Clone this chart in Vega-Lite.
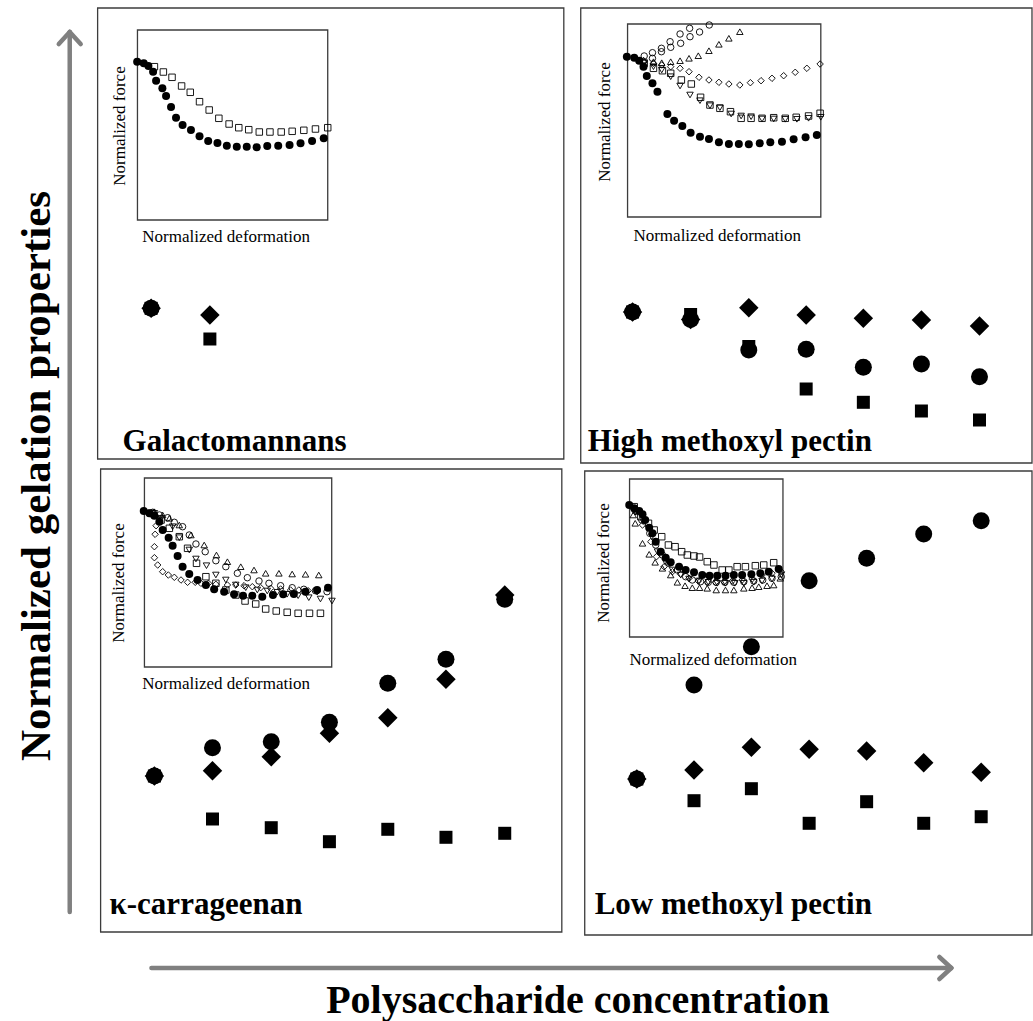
{
 "$schema": "https://vega.github.io/schema/vega-lite/v6.json",
 "width": 1033, "height": 1021,
 "autosize": {"type": "fit", "contains": "padding"},
 "padding": 0,
 "background": "white",
 "config": {"view": {"stroke": null}},
 "datasets": {
  "frames": [
   {"frame": "Galactomannans panel", "x0": 98, "x1": 566, "y0": 8, "y1": 459},
   {"frame": "High methoxyl pectin panel", "x0": 583, "x1": 1036, "y0": 8, "y1": 463},
   {"frame": "κ-carrageenan panel", "x0": 101, "x1": 564, "y0": 469, "y1": 932},
   {"frame": "Low methoxyl pectin panel", "x0": 587, "x1": 1036, "y0": 471, "y1": 935},
   {"frame": "Galactomannans inset", "x0": 138, "x1": 329, "y0": 30, "y1": 220},
   {"frame": "High methoxyl pectin inset", "x0": 630, "x1": 824, "y0": 24, "y1": 217},
   {"frame": "κ-carrageenan inset", "x0": 145, "x1": 333, "y0": 478, "y1": 667},
   {"frame": "Low methoxyl pectin inset", "x0": 632, "x1": 786, "y0": 479, "y1": 637}
  ],
  "arrows": [
   {"part": "vertical shaft", "x0": 70, "y0": 912, "x1": 70, "y1": 32},
   {"part": "vertical head left", "x0": 59, "y0": 44, "x1": 70, "y1": 32},
   {"part": "vertical head right", "x0": 81, "y0": 44, "x1": 70, "y1": 32},
   {"part": "horizontal shaft", "x0": 152, "y0": 968, "x1": 955, "y1": 968},
   {"part": "horizontal head top", "x0": 943, "y0": 957, "x1": 955, "y1": 968},
   {"part": "horizontal head bottom", "x0": 943, "y0": 979, "x1": 955, "y1": 968}
  ],
  "main": [
   {"panel": "Galactomannans", "c": 1, "marker": "circle", "x": 151.7, "y": 308.3},
   {"panel": "Galactomannans", "c": 1, "marker": "diamond", "x": 151.7, "y": 308.3},
   {"panel": "Galactomannans", "c": 1, "marker": "square", "x": 151.7, "y": 308.3},
   {"panel": "Galactomannans", "c": 2, "marker": "diamond", "x": 210.7, "y": 315},
   {"panel": "Galactomannans", "c": 2, "marker": "square", "x": 210.7, "y": 339},

   {"panel": "High methoxyl pectin", "c": 1, "marker": "circle", "x": 635, "y": 312},
   {"panel": "High methoxyl pectin", "c": 1, "marker": "diamond", "x": 635, "y": 312},
   {"panel": "High methoxyl pectin", "c": 1, "marker": "square", "x": 635, "y": 312},
   {"panel": "High methoxyl pectin", "c": 2, "marker": "circle", "x": 693.3, "y": 319.5},
   {"panel": "High methoxyl pectin", "c": 2, "marker": "diamond", "x": 693.3, "y": 319.5},
   {"panel": "High methoxyl pectin", "c": 2, "marker": "square", "x": 693.3, "y": 314.5},
   {"panel": "High methoxyl pectin", "c": 3, "marker": "diamond", "x": 751.7, "y": 307.7},
   {"panel": "High methoxyl pectin", "c": 3, "marker": "circle", "x": 751.7, "y": 350},
   {"panel": "High methoxyl pectin", "c": 3, "marker": "square", "x": 751.7, "y": 346.5},
   {"panel": "High methoxyl pectin", "c": 4, "marker": "diamond", "x": 809.3, "y": 315},
   {"panel": "High methoxyl pectin", "c": 4, "marker": "circle", "x": 809.3, "y": 349.3},
   {"panel": "High methoxyl pectin", "c": 4, "marker": "square", "x": 809.3, "y": 389},
   {"panel": "High methoxyl pectin", "c": 5, "marker": "diamond", "x": 866.7, "y": 318.3},
   {"panel": "High methoxyl pectin", "c": 5, "marker": "circle", "x": 866.7, "y": 367.3},
   {"panel": "High methoxyl pectin", "c": 5, "marker": "square", "x": 866.7, "y": 402.3},
   {"panel": "High methoxyl pectin", "c": 6, "marker": "diamond", "x": 925, "y": 320},
   {"panel": "High methoxyl pectin", "c": 6, "marker": "circle", "x": 925, "y": 364},
   {"panel": "High methoxyl pectin", "c": 6, "marker": "square", "x": 925, "y": 411},
   {"panel": "High methoxyl pectin", "c": 7, "marker": "diamond", "x": 983.3, "y": 326},
   {"panel": "High methoxyl pectin", "c": 7, "marker": "circle", "x": 983.3, "y": 376.7},
   {"panel": "High methoxyl pectin", "c": 7, "marker": "square", "x": 983.3, "y": 420},

   {"panel": "κ-carrageenan", "c": 1, "marker": "circle", "x": 155, "y": 776},
   {"panel": "κ-carrageenan", "c": 1, "marker": "diamond", "x": 155, "y": 776},
   {"panel": "κ-carrageenan", "c": 1, "marker": "square", "x": 155, "y": 776},
   {"panel": "κ-carrageenan", "c": 2, "marker": "circle", "x": 213.3, "y": 747.7},
   {"panel": "κ-carrageenan", "c": 2, "marker": "diamond", "x": 213.3, "y": 770.7},
   {"panel": "κ-carrageenan", "c": 2, "marker": "square", "x": 213.3, "y": 819},
   {"panel": "κ-carrageenan", "c": 3, "marker": "circle", "x": 272.3, "y": 741.7},
   {"panel": "κ-carrageenan", "c": 3, "marker": "diamond", "x": 272.3, "y": 756.7},
   {"panel": "κ-carrageenan", "c": 3, "marker": "square", "x": 272.3, "y": 827.7},
   {"panel": "κ-carrageenan", "c": 4, "marker": "circle", "x": 330.7, "y": 722.3},
   {"panel": "κ-carrageenan", "c": 4, "marker": "diamond", "x": 330.7, "y": 733.3},
   {"panel": "κ-carrageenan", "c": 4, "marker": "square", "x": 330.7, "y": 841.7},
   {"panel": "κ-carrageenan", "c": 5, "marker": "circle", "x": 389.3, "y": 683.3},
   {"panel": "κ-carrageenan", "c": 5, "marker": "diamond", "x": 389.3, "y": 717.7},
   {"panel": "κ-carrageenan", "c": 5, "marker": "square", "x": 389.3, "y": 829.3},
   {"panel": "κ-carrageenan", "c": 6, "marker": "circle", "x": 447.7, "y": 659.3},
   {"panel": "κ-carrageenan", "c": 6, "marker": "diamond", "x": 447.7, "y": 679.3},
   {"panel": "κ-carrageenan", "c": 6, "marker": "square", "x": 447.7, "y": 837.3},
   {"panel": "κ-carrageenan", "c": 7, "marker": "circle", "x": 506.7, "y": 599.3},
   {"panel": "κ-carrageenan", "c": 7, "marker": "diamond", "x": 506.7, "y": 595},
   {"panel": "κ-carrageenan", "c": 7, "marker": "square", "x": 506.7, "y": 833.3},

   {"panel": "Low methoxyl pectin", "c": 1, "marker": "circle", "x": 639.3, "y": 779},
   {"panel": "Low methoxyl pectin", "c": 1, "marker": "diamond", "x": 639.3, "y": 779},
   {"panel": "Low methoxyl pectin", "c": 1, "marker": "square", "x": 639.3, "y": 779},
   {"panel": "Low methoxyl pectin", "c": 2, "marker": "circle", "x": 696.7, "y": 685},
   {"panel": "Low methoxyl pectin", "c": 2, "marker": "diamond", "x": 696.7, "y": 770},
   {"panel": "Low methoxyl pectin", "c": 2, "marker": "square", "x": 696.7, "y": 800.7},
   {"panel": "Low methoxyl pectin", "c": 3, "marker": "circle", "x": 754.3, "y": 646.7},
   {"panel": "Low methoxyl pectin", "c": 3, "marker": "diamond", "x": 754.3, "y": 747.3},
   {"panel": "Low methoxyl pectin", "c": 3, "marker": "square", "x": 754.3, "y": 788.7},
   {"panel": "Low methoxyl pectin", "c": 4, "marker": "circle", "x": 812.3, "y": 580.7},
   {"panel": "Low methoxyl pectin", "c": 4, "marker": "diamond", "x": 812.3, "y": 749.3},
   {"panel": "Low methoxyl pectin", "c": 4, "marker": "square", "x": 812.3, "y": 823.3},
   {"panel": "Low methoxyl pectin", "c": 5, "marker": "circle", "x": 870, "y": 558.3},
   {"panel": "Low methoxyl pectin", "c": 5, "marker": "diamond", "x": 870, "y": 751},
   {"panel": "Low methoxyl pectin", "c": 5, "marker": "square", "x": 870, "y": 801.7},
   {"panel": "Low methoxyl pectin", "c": 6, "marker": "circle", "x": 927.3, "y": 534},
   {"panel": "Low methoxyl pectin", "c": 6, "marker": "diamond", "x": 927.3, "y": 762.7},
   {"panel": "Low methoxyl pectin", "c": 6, "marker": "square", "x": 927.3, "y": 823.3},
   {"panel": "Low methoxyl pectin", "c": 7, "marker": "circle", "x": 985, "y": 520.7},
   {"panel": "Low methoxyl pectin", "c": 7, "marker": "diamond", "x": 985, "y": 772.3},
   {"panel": "Low methoxyl pectin", "c": 7, "marker": "square", "x": 985, "y": 816.7}
  ],
  "insetFilled": [
   {"panel": "G", "x": 137.7, "y": 61.7}, {"panel": "G", "x": 144.3, "y": 63.3}, {"panel": "G", "x": 149, "y": 66}, {"panel": "G", "x": 153.7, "y": 71.7}, {"panel": "G", "x": 156.7, "y": 80.7}, {"panel": "G", "x": 163, "y": 88.3}, {"panel": "G", "x": 166.7, "y": 96}, {"panel": "G", "x": 171.7, "y": 107}, {"panel": "G", "x": 176.7, "y": 117.7}, {"panel": "G", "x": 183.3, "y": 125}, {"panel": "G", "x": 191.7, "y": 130}, {"panel": "G", "x": 200.3, "y": 136.3}, {"panel": "G", "x": 209, "y": 141}, {"panel": "G", "x": 218.3, "y": 143}, {"panel": "G", "x": 227.7, "y": 145.7}, {"panel": "G", "x": 237.7, "y": 146.7}, {"panel": "G", "x": 247.7, "y": 146.7}, {"panel": "G", "x": 257.7, "y": 147.3}, {"panel": "G", "x": 268.3, "y": 146}, {"panel": "G", "x": 279.3, "y": 145.7}, {"panel": "G", "x": 290.7, "y": 145}, {"panel": "G", "x": 301.7, "y": 143.3}, {"panel": "G", "x": 313.3, "y": 141}, {"panel": "G", "x": 325, "y": 138.3},
   {"panel": "HM", "x": 629.3, "y": 56.7}, {"panel": "HM", "x": 636.7, "y": 57.7}, {"panel": "HM", "x": 641.7, "y": 60.7}, {"panel": "HM", "x": 646, "y": 66.7}, {"panel": "HM", "x": 649.3, "y": 76}, {"panel": "HM", "x": 655, "y": 83.3}, {"panel": "HM", "x": 660, "y": 91.7}, {"panel": "HM", "x": 670, "y": 114}, {"panel": "HM", "x": 676.7, "y": 120.7}, {"panel": "HM", "x": 685, "y": 126}, {"panel": "HM", "x": 693.3, "y": 132.7}, {"panel": "HM", "x": 702.7, "y": 136.7}, {"panel": "HM", "x": 711.7, "y": 139}, {"panel": "HM", "x": 721.7, "y": 142.3}, {"panel": "HM", "x": 731.7, "y": 144}, {"panel": "HM", "x": 741.7, "y": 144}, {"panel": "HM", "x": 751.7, "y": 144.3}, {"panel": "HM", "x": 762.7, "y": 143.3}, {"panel": "HM", "x": 773.3, "y": 142.3}, {"panel": "HM", "x": 785, "y": 141.7}, {"panel": "HM", "x": 796.7, "y": 139.3}, {"panel": "HM", "x": 808.7, "y": 137.3}, {"panel": "HM", "x": 820, "y": 135},
   {"panel": "K", "x": 144.3, "y": 511}, {"panel": "K", "x": 150, "y": 513.3}, {"panel": "K", "x": 155, "y": 515.7}, {"panel": "K", "x": 160, "y": 521.7}, {"panel": "K", "x": 163.3, "y": 530}, {"panel": "K", "x": 169.3, "y": 537.7}, {"panel": "K", "x": 173.3, "y": 545.7}, {"panel": "K", "x": 178.3, "y": 556}, {"panel": "K", "x": 183.3, "y": 566.7}, {"panel": "K", "x": 190, "y": 574}, {"panel": "K", "x": 198.3, "y": 580}, {"panel": "K", "x": 206.7, "y": 585}, {"panel": "K", "x": 215, "y": 589.3}, {"panel": "K", "x": 225, "y": 591.7}, {"panel": "K", "x": 235, "y": 594.3}, {"panel": "K", "x": 244, "y": 595.7}, {"panel": "K", "x": 253.3, "y": 595.7}, {"panel": "K", "x": 263.3, "y": 596.7}, {"panel": "K", "x": 274, "y": 595}, {"panel": "K", "x": 284.3, "y": 594.3}, {"panel": "K", "x": 295, "y": 594}, {"panel": "K", "x": 306.7, "y": 591.7}, {"panel": "K", "x": 318.3, "y": 590}, {"panel": "K", "x": 329.3, "y": 587.7},
   {"panel": "LM", "x": 631.7, "y": 505}, {"panel": "LM", "x": 636.7, "y": 508.3}, {"panel": "LM", "x": 641.7, "y": 511}, {"panel": "LM", "x": 645, "y": 514.3}, {"panel": "LM", "x": 647.7, "y": 520}, {"panel": "LM", "x": 651.7, "y": 527.7}, {"panel": "LM", "x": 655, "y": 533.3}, {"panel": "LM", "x": 658.3, "y": 541.7}, {"panel": "LM", "x": 663.3, "y": 551.7}, {"panel": "LM", "x": 668.3, "y": 557.7}, {"panel": "LM", "x": 673.3, "y": 562.3}, {"panel": "LM", "x": 681.7, "y": 566.7}, {"panel": "LM", "x": 688.3, "y": 570}, {"panel": "LM", "x": 696.7, "y": 572.3}, {"panel": "LM", "x": 705, "y": 575}, {"panel": "LM", "x": 712.3, "y": 575.7}, {"panel": "LM", "x": 720, "y": 575.7}, {"panel": "LM", "x": 728.3, "y": 575.7}, {"panel": "LM", "x": 736.7, "y": 575}, {"panel": "LM", "x": 745, "y": 575}, {"panel": "LM", "x": 754.3, "y": 574.3}, {"panel": "LM", "x": 763.3, "y": 573.3}, {"panel": "LM", "x": 771.7, "y": 571.7}, {"panel": "LM", "x": 781.7, "y": 569}
  ],
  "insetOpen": [
   {"panel": "G", "marker": "open square", "x": 155, "y": 66.7}, {"panel": "G", "marker": "open square", "x": 164, "y": 72}, {"panel": "G", "marker": "open square", "x": 172.7, "y": 77.3}, {"panel": "G", "marker": "open square", "x": 182.3, "y": 86}, {"panel": "G", "marker": "open square", "x": 191, "y": 92.3}, {"panel": "G", "marker": "open square", "x": 200.3, "y": 101.7}, {"panel": "G", "marker": "open square", "x": 210, "y": 110}, {"panel": "G", "marker": "open square", "x": 219.7, "y": 118.3}, {"panel": "G", "marker": "open square", "x": 230, "y": 124}, {"panel": "G", "marker": "open square", "x": 239.7, "y": 127.7}, {"panel": "G", "marker": "open square", "x": 249.7, "y": 129.7}, {"panel": "G", "marker": "open square", "x": 260.3, "y": 132}, {"panel": "G", "marker": "open square", "x": 271, "y": 132}, {"panel": "G", "marker": "open square", "x": 282.3, "y": 132}, {"panel": "G", "marker": "open square", "x": 293.3, "y": 131.3}, {"panel": "G", "marker": "open square", "x": 305, "y": 130.3}, {"panel": "G", "marker": "open square", "x": 316.7, "y": 129}, {"panel": "G", "marker": "open square", "x": 329, "y": 127.7},

   {"panel": "HM", "marker": "open circle", "x": 646.7, "y": 56}, {"panel": "HM", "marker": "open circle", "x": 655, "y": 52.7}, {"panel": "HM", "marker": "open circle", "x": 664, "y": 48.3}, {"panel": "HM", "marker": "open circle", "x": 672.7, "y": 41.7}, {"panel": "HM", "marker": "open circle", "x": 682.7, "y": 34}, {"panel": "HM", "marker": "open circle", "x": 692.3, "y": 28.3}, {"panel": "HM", "marker": "open circle", "x": 712, "y": 25},
   {"panel": "HM", "marker": "open circle", "x": 655, "y": 58.3}, {"panel": "HM", "marker": "open circle", "x": 664, "y": 51.7}, {"panel": "HM", "marker": "open circle", "x": 673.3, "y": 47.3}, {"panel": "HM", "marker": "open circle", "x": 683.3, "y": 43.3}, {"panel": "HM", "marker": "open circle", "x": 692.7, "y": 36.7}, {"panel": "HM", "marker": "open circle", "x": 702.3, "y": 32},
   {"panel": "HM", "marker": "open triangle-up", "x": 646, "y": 60}, {"panel": "HM", "marker": "open triangle-up", "x": 656, "y": 61.7}, {"panel": "HM", "marker": "open triangle-up", "x": 664.3, "y": 62.7}, {"panel": "HM", "marker": "open triangle-up", "x": 673.3, "y": 61.7}, {"panel": "HM", "marker": "open triangle-up", "x": 682.7, "y": 60.7}, {"panel": "HM", "marker": "open triangle-up", "x": 691.7, "y": 58.3}, {"panel": "HM", "marker": "open triangle-up", "x": 701, "y": 55.7}, {"panel": "HM", "marker": "open triangle-up", "x": 711.7, "y": 50.7}, {"panel": "HM", "marker": "open triangle-up", "x": 721.7, "y": 44.3}, {"panel": "HM", "marker": "open triangle-up", "x": 731.7, "y": 38.3}, {"panel": "HM", "marker": "open triangle-up", "x": 742.7, "y": 31.7},
   {"panel": "HM", "marker": "open diamond", "x": 646.7, "y": 61.7}, {"panel": "HM", "marker": "open diamond", "x": 656, "y": 63.3}, {"panel": "HM", "marker": "open diamond", "x": 664.3, "y": 65}, {"panel": "HM", "marker": "open diamond", "x": 673.3, "y": 66.7}, {"panel": "HM", "marker": "open diamond", "x": 682.7, "y": 68.3}, {"panel": "HM", "marker": "open diamond", "x": 691.7, "y": 71.7}, {"panel": "HM", "marker": "open diamond", "x": 701.7, "y": 77.3}, {"panel": "HM", "marker": "open diamond", "x": 711.7, "y": 80}, {"panel": "HM", "marker": "open diamond", "x": 721.7, "y": 82.3}, {"panel": "HM", "marker": "open diamond", "x": 731.7, "y": 84}, {"panel": "HM", "marker": "open diamond", "x": 742.7, "y": 85}, {"panel": "HM", "marker": "open diamond", "x": 753.3, "y": 82.7}, {"panel": "HM", "marker": "open diamond", "x": 764, "y": 80.7}, {"panel": "HM", "marker": "open diamond", "x": 775, "y": 78.3}, {"panel": "HM", "marker": "open diamond", "x": 786.7, "y": 75.7}, {"panel": "HM", "marker": "open diamond", "x": 798.3, "y": 72.3}, {"panel": "HM", "marker": "open diamond", "x": 810, "y": 68.3}, {"panel": "HM", "marker": "open diamond", "x": 823.3, "y": 64},
   {"panel": "HM", "marker": "open square", "x": 646.7, "y": 63.3}, {"panel": "HM", "marker": "open square", "x": 656, "y": 68.3}, {"panel": "HM", "marker": "open square", "x": 665, "y": 70.7}, {"panel": "HM", "marker": "open square", "x": 673.3, "y": 73.3}, {"panel": "HM", "marker": "open square", "x": 684, "y": 80}, {"panel": "HM", "marker": "open square", "x": 694, "y": 84}, {"panel": "HM", "marker": "open square", "x": 703.3, "y": 97.3}, {"panel": "HM", "marker": "open square", "x": 712.7, "y": 105}, {"panel": "HM", "marker": "open square", "x": 722.7, "y": 108.3}, {"panel": "HM", "marker": "open square", "x": 733.3, "y": 111.7}, {"panel": "HM", "marker": "open square", "x": 744, "y": 118.3}, {"panel": "HM", "marker": "open square", "x": 754, "y": 118.3}, {"panel": "HM", "marker": "open square", "x": 765, "y": 118.3}, {"panel": "HM", "marker": "open square", "x": 776.7, "y": 117.7}, {"panel": "HM", "marker": "open square", "x": 788.3, "y": 118.3}, {"panel": "HM", "marker": "open square", "x": 799.3, "y": 117.3}, {"panel": "HM", "marker": "open square", "x": 811.7, "y": 116}, {"panel": "HM", "marker": "open square", "x": 823.3, "y": 113.3},
   {"panel": "HM", "marker": "open triangle-down", "x": 646.7, "y": 62.7}, {"panel": "HM", "marker": "open triangle-down", "x": 656, "y": 66.7}, {"panel": "HM", "marker": "open triangle-down", "x": 664.3, "y": 70}, {"panel": "HM", "marker": "open triangle-down", "x": 673.3, "y": 76.7}, {"panel": "HM", "marker": "open triangle-down", "x": 682.7, "y": 86}, {"panel": "HM", "marker": "open triangle-down", "x": 692.7, "y": 95}, {"panel": "HM", "marker": "open triangle-down", "x": 702.7, "y": 100.7}, {"panel": "HM", "marker": "open triangle-down", "x": 712.7, "y": 105.7}, {"panel": "HM", "marker": "open triangle-down", "x": 722.7, "y": 107.7}, {"panel": "HM", "marker": "open triangle-down", "x": 734, "y": 114}, {"panel": "HM", "marker": "open triangle-down", "x": 744, "y": 116}, {"panel": "HM", "marker": "open triangle-down", "x": 754, "y": 116.7}, {"panel": "HM", "marker": "open triangle-down", "x": 765, "y": 119}, {"panel": "HM", "marker": "open triangle-down", "x": 776.7, "y": 119}, {"panel": "HM", "marker": "open triangle-down", "x": 788.3, "y": 119.3}, {"panel": "HM", "marker": "open triangle-down", "x": 800, "y": 119.3}, {"panel": "HM", "marker": "open triangle-down", "x": 811.7, "y": 118.3}, {"panel": "HM", "marker": "open triangle-down", "x": 824, "y": 117.3},

   {"panel": "K", "marker": "open diamond", "x": 153.3, "y": 515.7}, {"panel": "K", "marker": "open diamond", "x": 156.7, "y": 525.7}, {"panel": "K", "marker": "open diamond", "x": 155.7, "y": 534.3}, {"panel": "K", "marker": "open diamond", "x": 155, "y": 546.7}, {"panel": "K", "marker": "open diamond", "x": 155, "y": 557.7}, {"panel": "K", "marker": "open diamond", "x": 158.3, "y": 565}, {"panel": "K", "marker": "open diamond", "x": 163.3, "y": 571.7}, {"panel": "K", "marker": "open diamond", "x": 169, "y": 575}, {"panel": "K", "marker": "open diamond", "x": 175, "y": 577.3}, {"panel": "K", "marker": "open diamond", "x": 181.7, "y": 580}, {"panel": "K", "marker": "open diamond", "x": 188.3, "y": 582.3}, {"panel": "K", "marker": "open diamond", "x": 196, "y": 582.3}, {"panel": "K", "marker": "open diamond", "x": 201.7, "y": 583.3}, {"panel": "K", "marker": "open diamond", "x": 209.3, "y": 583.3}, {"panel": "K", "marker": "open diamond", "x": 216.7, "y": 584.3}, {"panel": "K", "marker": "open diamond", "x": 228.3, "y": 585}, {"panel": "K", "marker": "open diamond", "x": 236.7, "y": 585}, {"panel": "K", "marker": "open diamond", "x": 245, "y": 585.7}, {"panel": "K", "marker": "open diamond", "x": 253.3, "y": 586.7}, {"panel": "K", "marker": "open diamond", "x": 261.7, "y": 587.7}, {"panel": "K", "marker": "open diamond", "x": 271.7, "y": 588.3}, {"panel": "K", "marker": "open diamond", "x": 281.7, "y": 589}, {"panel": "K", "marker": "open diamond", "x": 291.7, "y": 590}, {"panel": "K", "marker": "open diamond", "x": 300, "y": 590}, {"panel": "K", "marker": "open diamond", "x": 309.3, "y": 590.7}, {"panel": "K", "marker": "open diamond", "x": 318.3, "y": 591.7},
   {"panel": "K", "marker": "open circle", "x": 153.3, "y": 512.3}, {"panel": "K", "marker": "open circle", "x": 160, "y": 515}, {"panel": "K", "marker": "open circle", "x": 168.3, "y": 517.7}, {"panel": "K", "marker": "open circle", "x": 175, "y": 522.3}, {"panel": "K", "marker": "open circle", "x": 183.3, "y": 526.7}, {"panel": "K", "marker": "open circle", "x": 190, "y": 535}, {"panel": "K", "marker": "open circle", "x": 196.7, "y": 544}, {"panel": "K", "marker": "open circle", "x": 206, "y": 551.7}, {"panel": "K", "marker": "open circle", "x": 216.7, "y": 560.7}, {"panel": "K", "marker": "open circle", "x": 226.7, "y": 566.7}, {"panel": "K", "marker": "open circle", "x": 238.3, "y": 573.3}, {"panel": "K", "marker": "open circle", "x": 248.3, "y": 577.7}, {"panel": "K", "marker": "open circle", "x": 260, "y": 581}, {"panel": "K", "marker": "open circle", "x": 270, "y": 583.3}, {"panel": "K", "marker": "open circle", "x": 281.7, "y": 585.7}, {"panel": "K", "marker": "open circle", "x": 293.3, "y": 587.7}, {"panel": "K", "marker": "open circle", "x": 305, "y": 589.3}, {"panel": "K", "marker": "open circle", "x": 316.7, "y": 590.7}, {"panel": "K", "marker": "open circle", "x": 328.3, "y": 591.7},
   {"panel": "K", "marker": "open triangle-up", "x": 155, "y": 511.7}, {"panel": "K", "marker": "open triangle-up", "x": 163.3, "y": 515}, {"panel": "K", "marker": "open triangle-up", "x": 170, "y": 518.3}, {"panel": "K", "marker": "open triangle-up", "x": 180, "y": 525}, {"panel": "K", "marker": "open triangle-up", "x": 191.7, "y": 535}, {"panel": "K", "marker": "open triangle-up", "x": 205, "y": 545}, {"panel": "K", "marker": "open triangle-up", "x": 217.3, "y": 555}, {"panel": "K", "marker": "open triangle-up", "x": 228.3, "y": 561.7}, {"panel": "K", "marker": "open triangle-up", "x": 241.7, "y": 566.7}, {"panel": "K", "marker": "open triangle-up", "x": 255, "y": 570}, {"panel": "K", "marker": "open triangle-up", "x": 266.7, "y": 573.3}, {"panel": "K", "marker": "open triangle-up", "x": 280, "y": 573.3}, {"panel": "K", "marker": "open triangle-up", "x": 293.3, "y": 574}, {"panel": "K", "marker": "open triangle-up", "x": 306.7, "y": 574.3}, {"panel": "K", "marker": "open triangle-up", "x": 320, "y": 575},
   {"panel": "K", "marker": "open square", "x": 151.7, "y": 513.3}, {"panel": "K", "marker": "open square", "x": 161.7, "y": 520}, {"panel": "K", "marker": "open square", "x": 170, "y": 528.3}, {"panel": "K", "marker": "open square", "x": 180, "y": 536.7}, {"panel": "K", "marker": "open square", "x": 188.3, "y": 548.3}, {"panel": "K", "marker": "open square", "x": 197.3, "y": 563.3}, {"panel": "K", "marker": "open square", "x": 206.7, "y": 576.7}, {"panel": "K", "marker": "open square", "x": 216.7, "y": 583.3}, {"panel": "K", "marker": "open square", "x": 226.7, "y": 590}, {"panel": "K", "marker": "open square", "x": 236.7, "y": 595}, {"panel": "K", "marker": "open square", "x": 246, "y": 601}, {"panel": "K", "marker": "open square", "x": 256.7, "y": 604}, {"panel": "K", "marker": "open square", "x": 266.7, "y": 609}, {"panel": "K", "marker": "open square", "x": 277.3, "y": 611}, {"panel": "K", "marker": "open square", "x": 288.3, "y": 612.3}, {"panel": "K", "marker": "open square", "x": 299.3, "y": 613.3}, {"panel": "K", "marker": "open square", "x": 310.7, "y": 613.3}, {"panel": "K", "marker": "open square", "x": 321.7, "y": 613.3},
   {"panel": "K", "marker": "open triangle-down", "x": 155, "y": 513.3}, {"panel": "K", "marker": "open triangle-down", "x": 161.7, "y": 518.3}, {"panel": "K", "marker": "open triangle-down", "x": 173.3, "y": 526.7}, {"panel": "K", "marker": "open triangle-down", "x": 180, "y": 537.7}, {"panel": "K", "marker": "open triangle-down", "x": 190, "y": 550}, {"panel": "K", "marker": "open triangle-down", "x": 196.7, "y": 559}, {"panel": "K", "marker": "open triangle-down", "x": 207.3, "y": 565.7}, {"panel": "K", "marker": "open triangle-down", "x": 216.7, "y": 575}, {"panel": "K", "marker": "open triangle-down", "x": 226.7, "y": 580}, {"panel": "K", "marker": "open triangle-down", "x": 236.7, "y": 585}, {"panel": "K", "marker": "open triangle-down", "x": 246.7, "y": 587.7}, {"panel": "K", "marker": "open triangle-down", "x": 258.3, "y": 590}, {"panel": "K", "marker": "open triangle-down", "x": 268.3, "y": 591}, {"panel": "K", "marker": "open triangle-down", "x": 278.3, "y": 592.3}, {"panel": "K", "marker": "open triangle-down", "x": 288.3, "y": 594.3}, {"panel": "K", "marker": "open triangle-down", "x": 299.3, "y": 595.7}, {"panel": "K", "marker": "open triangle-down", "x": 310, "y": 597.7}, {"panel": "K", "marker": "open triangle-down", "x": 321.7, "y": 599}, {"panel": "K", "marker": "open triangle-down", "x": 333.3, "y": 601},

   {"panel": "LM", "marker": "open square", "x": 636.7, "y": 506.7}, {"panel": "LM", "marker": "open square", "x": 643.3, "y": 516.7}, {"panel": "LM", "marker": "open square", "x": 651, "y": 523.3}, {"panel": "LM", "marker": "open square", "x": 656.7, "y": 530}, {"panel": "LM", "marker": "open square", "x": 664.3, "y": 536.7}, {"panel": "LM", "marker": "open square", "x": 671, "y": 545}, {"panel": "LM", "marker": "open square", "x": 677.7, "y": 546.7}, {"panel": "LM", "marker": "open square", "x": 684.3, "y": 551.7}, {"panel": "LM", "marker": "open square", "x": 690, "y": 555}, {"panel": "LM", "marker": "open square", "x": 696.7, "y": 556}, {"panel": "LM", "marker": "open square", "x": 702.3, "y": 557}, {"panel": "LM", "marker": "open square", "x": 710, "y": 561.7}, {"panel": "LM", "marker": "open square", "x": 716.7, "y": 565}, {"panel": "LM", "marker": "open square", "x": 725, "y": 570}, {"panel": "LM", "marker": "open square", "x": 731.7, "y": 570}, {"panel": "LM", "marker": "open square", "x": 740, "y": 566.7}, {"panel": "LM", "marker": "open square", "x": 748.3, "y": 566.7}, {"panel": "LM", "marker": "open square", "x": 758.3, "y": 565.7}, {"panel": "LM", "marker": "open square", "x": 766.7, "y": 565}, {"panel": "LM", "marker": "open square", "x": 776.7, "y": 562.7},
   {"panel": "LM", "marker": "open triangle-up", "x": 635.7, "y": 515}, {"panel": "LM", "marker": "open triangle-up", "x": 637.7, "y": 523.3}, {"panel": "LM", "marker": "open triangle-up", "x": 645, "y": 543.3}, {"panel": "LM", "marker": "open triangle-up", "x": 651.7, "y": 554.3}, {"panel": "LM", "marker": "open triangle-up", "x": 657.7, "y": 562.3}, {"panel": "LM", "marker": "open triangle-up", "x": 665, "y": 568.3}, {"panel": "LM", "marker": "open triangle-up", "x": 673.3, "y": 575}, {"panel": "LM", "marker": "open triangle-up", "x": 680, "y": 582.3}, {"panel": "LM", "marker": "open triangle-up", "x": 687.7, "y": 585.7}, {"panel": "LM", "marker": "open triangle-up", "x": 695, "y": 587.7}, {"panel": "LM", "marker": "open triangle-up", "x": 702.3, "y": 587.7}, {"panel": "LM", "marker": "open triangle-up", "x": 710, "y": 588.3}, {"panel": "LM", "marker": "open triangle-up", "x": 719, "y": 590}, {"panel": "LM", "marker": "open triangle-up", "x": 728.3, "y": 590}, {"panel": "LM", "marker": "open triangle-up", "x": 736.7, "y": 590}, {"panel": "LM", "marker": "open triangle-up", "x": 746.7, "y": 588.3}, {"panel": "LM", "marker": "open triangle-up", "x": 755, "y": 587.7}, {"panel": "LM", "marker": "open triangle-up", "x": 761.7, "y": 586.7}, {"panel": "LM", "marker": "open triangle-up", "x": 770, "y": 585.7}, {"panel": "LM", "marker": "open triangle-up", "x": 776.7, "y": 585}, {"panel": "LM", "marker": "open triangle-up", "x": 783.3, "y": 578.3},
   {"panel": "LM", "marker": "open circle", "x": 638.3, "y": 510}, {"panel": "LM", "marker": "open circle", "x": 644.3, "y": 520}, {"panel": "LM", "marker": "open circle", "x": 652.3, "y": 533.3}, {"panel": "LM", "marker": "open circle", "x": 658.3, "y": 545}, {"panel": "LM", "marker": "open circle", "x": 665, "y": 555}, {"panel": "LM", "marker": "open circle", "x": 671.7, "y": 563.3}, {"panel": "LM", "marker": "open circle", "x": 680, "y": 570}, {"panel": "LM", "marker": "open circle", "x": 688.3, "y": 576.7}, {"panel": "LM", "marker": "open circle", "x": 695, "y": 580}, {"panel": "LM", "marker": "open circle", "x": 703.3, "y": 581.7}, {"panel": "LM", "marker": "open circle", "x": 711, "y": 582.3}, {"panel": "LM", "marker": "open circle", "x": 719, "y": 582.3}, {"panel": "LM", "marker": "open circle", "x": 727.7, "y": 582.3}, {"panel": "LM", "marker": "open circle", "x": 736.7, "y": 582.3}, {"panel": "LM", "marker": "open circle", "x": 746.7, "y": 581.7}, {"panel": "LM", "marker": "open circle", "x": 756.7, "y": 581}, {"panel": "LM", "marker": "open circle", "x": 765.7, "y": 580}, {"panel": "LM", "marker": "open circle", "x": 775, "y": 578.3}, {"panel": "LM", "marker": "open circle", "x": 784.3, "y": 576.7},
   {"panel": "LM", "marker": "open diamond", "x": 637.7, "y": 511.7}, {"panel": "LM", "marker": "open diamond", "x": 645, "y": 525}, {"panel": "LM", "marker": "open diamond", "x": 653.3, "y": 541.7}, {"panel": "LM", "marker": "open diamond", "x": 659, "y": 556.7}, {"panel": "LM", "marker": "open diamond", "x": 666.7, "y": 566.7}, {"panel": "LM", "marker": "open diamond", "x": 675, "y": 571.7}, {"panel": "LM", "marker": "open diamond", "x": 683.3, "y": 574.3}, {"panel": "LM", "marker": "open diamond", "x": 691.7, "y": 578.3}, {"panel": "LM", "marker": "open diamond", "x": 701, "y": 581}, {"panel": "LM", "marker": "open diamond", "x": 710, "y": 582.3}, {"panel": "LM", "marker": "open diamond", "x": 718.3, "y": 582.3}, {"panel": "LM", "marker": "open diamond", "x": 726.7, "y": 581.7}, {"panel": "LM", "marker": "open diamond", "x": 735, "y": 581}, {"panel": "LM", "marker": "open diamond", "x": 745, "y": 580}, {"panel": "LM", "marker": "open diamond", "x": 755, "y": 579}, {"panel": "LM", "marker": "open diamond", "x": 765, "y": 575}, {"panel": "LM", "marker": "open diamond", "x": 775, "y": 573.3}, {"panel": "LM", "marker": "open diamond", "x": 784.3, "y": 571.7},
   {"panel": "LM", "marker": "open triangle-down", "x": 638.3, "y": 512.3}, {"panel": "LM", "marker": "open triangle-down", "x": 645.7, "y": 521.7}, {"panel": "LM", "marker": "open triangle-down", "x": 654.3, "y": 536.7}, {"panel": "LM", "marker": "open triangle-down", "x": 660, "y": 551.7}, {"panel": "LM", "marker": "open triangle-down", "x": 667.7, "y": 561.7}, {"panel": "LM", "marker": "open triangle-down", "x": 675, "y": 570}, {"panel": "LM", "marker": "open triangle-down", "x": 683.3, "y": 575}, {"panel": "LM", "marker": "open triangle-down", "x": 691.7, "y": 579}, {"panel": "LM", "marker": "open triangle-down", "x": 701.7, "y": 581}, {"panel": "LM", "marker": "open triangle-down", "x": 711, "y": 582.3}, {"panel": "LM", "marker": "open triangle-down", "x": 720, "y": 583.3}, {"panel": "LM", "marker": "open triangle-down", "x": 728.3, "y": 583.3}, {"panel": "LM", "marker": "open triangle-down", "x": 737.7, "y": 583.3}, {"panel": "LM", "marker": "open triangle-down", "x": 746.7, "y": 583.3}, {"panel": "LM", "marker": "open triangle-down", "x": 756.7, "y": 582.3}, {"panel": "LM", "marker": "open triangle-down", "x": 765, "y": 581}, {"panel": "LM", "marker": "open triangle-down", "x": 775, "y": 579}, {"panel": "LM", "marker": "open triangle-down", "x": 784.3, "y": 575}
  ],
  "panelLabels": [
   {"label": "Galactomannans", "x": 123, "y": 451},
   {"label": "High methoxyl pectin", "x": 590, "y": 451},
   {"label": "κ-carrageenan", "x": 110, "y": 914},
   {"label": "Low methoxyl pectin", "x": 597, "y": 914}
  ],
  "forceLabels": [
   {"label": "Normalized force", "x": 120, "y": 126},
   {"label": "Normalized force", "x": 607, "y": 122},
   {"label": "Normalized force", "x": 119, "y": 583},
   {"label": "Normalized force", "x": 606, "y": 563}
  ],
  "deformationLabels": [
   {"label": "Normalized deformation", "x": 227, "y": 237},
   {"label": "Normalized deformation", "x": 720, "y": 236},
   {"label": "Normalized deformation", "x": 227, "y": 684},
   {"label": "Normalized deformation", "x": 716, "y": 660}
  ],
  "xTitle": [{"label": "Polysaccharide concentration", "x": 580, "y": 1001}],
  "yTitle": [{"label": "Normalized gelation properties", "x": 37, "y": 476}]
 },
 "layer": [
  {
   "data": {"name": "frames"},
   "mark": {"type": "rect", "filled": false, "color": "#3c3c3c", "strokeWidth": 1.3},
   "encoding": {
    "x": {"field": "x0", "type": "quantitative", "scale": {"domain": [0, 1033], "nice": false, "zero": false}, "axis": null},
    "x2": {"field": "x1"},
    "y": {"field": "y0", "type": "quantitative", "scale": {"domain": [0, 1021], "nice": false, "zero": false, "reverse": true}, "axis": null},
    "y2": {"field": "y1"}
   }
  },
  {
   "data": {"name": "arrows"},
   "mark": {"type": "rule", "color": "#808080", "strokeWidth": 4.5, "strokeCap": "round"},
   "encoding": {
    "x": {"field": "x0", "type": "quantitative", "axis": null},
    "x2": {"field": "x1"},
    "y": {"field": "y0", "type": "quantitative", "axis": null},
    "y2": {"field": "y1"}
   }
  },
  {
   "data": {"name": "insetOpen"},
   "mark": {"type": "point", "filled": false, "color": "black", "strokeWidth": 0.9, "size": 42, "opacity": 1},
   "encoding": {
    "x": {"field": "x", "type": "quantitative", "axis": null},
    "y": {"field": "y", "type": "quantitative", "axis": null},
    "shape": {"field": "marker", "type": "nominal", "legend": null,
     "scale": {"domain": ["open circle", "open square", "open diamond", "open triangle-up", "open triangle-down"],
               "range": ["circle", "square", "diamond", "triangle-up", "triangle-down"]}}
   }
  },
  {
   "data": {"name": "insetFilled"},
   "mark": {"type": "point", "filled": true, "shape": "circle", "color": "black", "size": 64, "opacity": 1},
   "encoding": {
    "x": {"field": "x", "type": "quantitative", "axis": null},
    "y": {"field": "y", "type": "quantitative", "axis": null}
   }
  },
  {
   "data": {"name": "main"},
   "transform": [{"filter": "datum.marker === 'circle'"}],
   "mark": {"type": "point", "filled": true, "shape": "circle", "size": 289, "color": "black", "opacity": 1},
   "encoding": {
    "x": {"field": "x", "type": "quantitative", "axis": null},
    "y": {"field": "y", "type": "quantitative", "axis": null}
   }
  },
  {
   "data": {"name": "main"},
   "transform": [{"filter": "datum.marker === 'diamond'"}],
   "mark": {"type": "point", "filled": true, "shape": "diamond", "size": 380, "color": "black", "opacity": 1},
   "encoding": {
    "x": {"field": "x", "type": "quantitative", "axis": null},
    "y": {"field": "y", "type": "quantitative", "axis": null}
   }
  },
  {
   "data": {"name": "main"},
   "transform": [{"filter": "datum.marker === 'square'"}],
   "mark": {"type": "point", "filled": true, "shape": "square", "size": 169, "color": "black", "opacity": 1},
   "encoding": {
    "x": {"field": "x", "type": "quantitative", "axis": null},
    "y": {"field": "y", "type": "quantitative", "axis": null}
   }
  },
  {
   "data": {"name": "panelLabels"},
   "mark": {"type": "text", "font": "Liberation Serif", "fontWeight": "bold", "fontSize": 31, "align": "left", "baseline": "alphabetic", "color": "black"},
   "encoding": {
    "x": {"field": "x", "type": "quantitative", "axis": null},
    "y": {"field": "y", "type": "quantitative", "axis": null},
    "text": {"field": "label"}
   }
  },
  {
   "data": {"name": "forceLabels"},
   "mark": {"type": "text", "font": "Liberation Serif", "fontSize": 17, "angle": 270, "align": "center", "baseline": "middle", "color": "black"},
   "encoding": {
    "x": {"field": "x", "type": "quantitative", "axis": null},
    "y": {"field": "y", "type": "quantitative", "axis": null},
    "text": {"field": "label"}
   }
  },
  {
   "data": {"name": "deformationLabels"},
   "mark": {"type": "text", "font": "Liberation Serif", "fontSize": 17, "align": "center", "baseline": "middle", "color": "black"},
   "encoding": {
    "x": {"field": "x", "type": "quantitative", "axis": null},
    "y": {"field": "y", "type": "quantitative", "axis": null},
    "text": {"field": "label"}
   }
  },
  {
   "data": {"name": "xTitle"},
   "mark": {"type": "text", "font": "Liberation Serif", "fontWeight": "bold", "fontSize": 40, "align": "center", "baseline": "middle", "color": "black"},
   "encoding": {
    "x": {"field": "x", "type": "quantitative", "axis": null},
    "y": {"field": "y", "type": "quantitative", "axis": null},
    "text": {"field": "label"}
   }
  },
  {
   "data": {"name": "yTitle"},
   "mark": {"type": "text", "font": "Liberation Serif", "fontWeight": "bold", "fontSize": 43, "angle": 270, "align": "center", "baseline": "middle", "color": "black"},
   "encoding": {
    "x": {"field": "x", "type": "quantitative", "axis": null},
    "y": {"field": "y", "type": "quantitative", "axis": null},
    "text": {"field": "label"}
   }
  }
 ]
}
